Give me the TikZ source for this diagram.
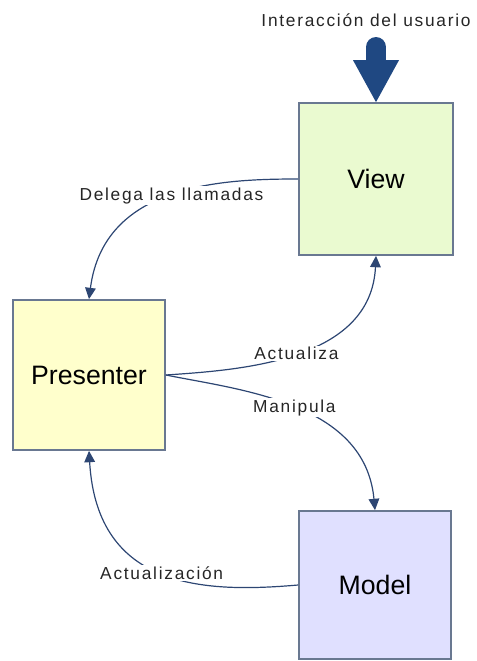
\documentclass[tikz,border=0pt]{standalone}
\usepackage{fontspec}
\setmainfont{Liberation Sans}
\newfontfamily\lblfont[LetterSpace=10]{Liberation Sans}
\usetikzlibrary{arrows.meta}
\definecolor{viewfill}{RGB}{234,250,208}
\definecolor{presfill}{RGB}{255,255,204}
\definecolor{modelfill}{RGB}{224,224,255}
\definecolor{boxline}{RGB}{105,120,145}
\definecolor{linkcol}{RGB}{45,70,115}
\definecolor{userblue}{RGB}{31,72,130}
\tikzstyle{box} = [draw=boxline,line width=1.3pt,minimum width=114pt,minimum height=114pt,inner sep=0pt,font=\fontsize{20}{23}\selectfont]
\tikzstyle{arrow} = [draw=linkcol,line width=0.9pt,->,>={Triangle[length=8.5pt,width=8pt]}]
\tikzstyle{lbl} = [fill=white,inner sep=1pt,text=black!85,font=\lblfont\fontsize{13}{15}\selectfont]

\begin{document}
\begin{tikzpicture}[x=0.75pt,y=-0.75pt]
\useasboundingbox (0,0) rectangle (476,661);

\node (view) [box,fill=viewfill,minimum width=115.5pt] at (376,179) {View};
\node (presenter) [box,fill=presfill,minimum height=112.5pt] at (89,375) {Presenter};
\node (model) [box,fill=modelfill,minimum height=111pt] at (375,585) {Model};
\node (user) [lbl] at (366,20) {Interacción del usuario};
\coordinate (usr) at (376,47);
\draw [userblue,line width=15pt,line cap=round,-{Triangle[length=31.5pt,width=34.5pt,line width=0pt]}] (usr) -- (view.north);
\draw [arrow] (view.west) .. controls +(-74,0) and +(15,-116) .. node[lbl] {Delega las llamadas} (presenter.north);
\draw [arrow] (presenter.east) .. controls +(73,-5) and +(-5,106) .. node[lbl] {Actualiza} (view.south);
\draw [arrow] (presenter.east) .. controls +(74,15) and +(-10,-108) .. node[lbl] {Manipula} (model.north);
\draw [arrow] (model.west) .. controls +(-93,8) and +(8,139) .. node[lbl] {Actualización} (presenter.south);

\end{tikzpicture}
\end{document}
